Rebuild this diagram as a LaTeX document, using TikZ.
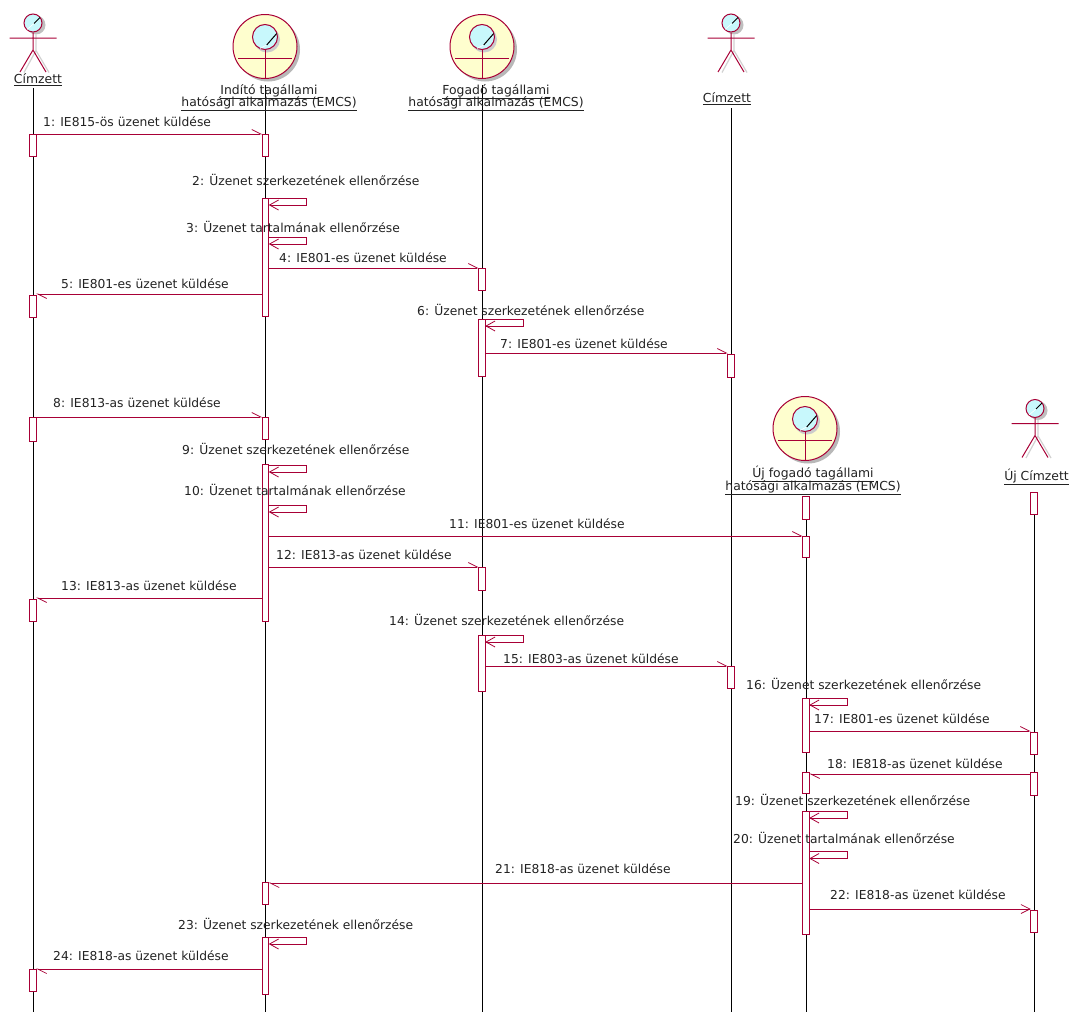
\documentclass[tikz,border=0pt]{standalone}
\usepackage{fontspec}
\setmainfont{DejaVu Sans}
\usetikzlibrary{arrows.meta}
\definecolor{umlred}{HTML}{A80036}
\definecolor{umlyellow}{HTML}{FEFECE}
\definecolor{umlcyan}{HTML}{C8F8FC}
\definecolor{umltext}{HTML}{222222}
\tikzset{
 x=1pt,y=-1pt,
 lifeline/.style={draw=black,line width=0.8pt},
 act/.style={draw=umlred,fill=white,line width=0.9pt,minimum width=6.5pt,inner sep=0pt,outer sep=0pt,rectangle},
 msg/.style={draw=umlred,line width=0.8pt,-{Straight Barb[harpoon,length=9pt,width=9pt,line width=0.7pt]}},
 msgfull/.style={draw=umlred,line width=0.8pt,-{Straight Barb[length=9pt,width=9pt,line width=0.7pt]}},
 selfmsg/.style={draw=umlred,line width=0.8pt,-{Straight Barb[length=9pt,width=10pt,line width=0.8pt]}},
 lbl/.style={font=\fontsize{12.3}{14}\selectfont,text=umltext,anchor=west,inner sep=0pt,text height=10pt,text depth=2pt},
 captxt/.style={font=\fontsize{12.4}{14.5}\selectfont,text=umltext,align=center,inner sep=0pt},
 figline/.style={draw=umlred,line width=1pt},
 actorfig/.pic={
  \draw[black!18,line width=1.2pt] (3,2) -- (3,18) -- (-9,40) (3,18) -- (16,40);
  \fill[black!25] (3,-7.5) circle[radius=9.5];
  \draw[figline,fill=umlcyan] (0,-9.5) circle[radius=9];
  \draw[black,line width=0.8pt] (1,-9) -- (7,-15);
  \draw[white,line width=0.6pt] (-6,-3) -- (1,-9);
  \draw[figline] (0,0) -- (0,17.5) (-23.5,5.5) -- (23.5,5.5) (-13,39.5) -- (0,17.5) -- (13,39.5);
 },
 agentfig/.pic={
  \fill[black!28] (3,3) circle[radius=32];
  \draw[figline,fill=umlyellow] (0,0) circle[radius=32];
  \fill[black!20] (2,-7) circle[radius=13];
  \draw[figline,fill=umlcyan] (0,-9.5) circle[radius=12.5];
  \draw[black,line width=1pt] (1.7,-1.5) -- (11.7,-13);
  \draw[white,line width=0.6pt] (-5,2) -- (1.7,-1.5);
  \draw[figline] (0,3) -- (0,32) (-27,11.5) -- (27,11.5);
 },
}
\begin{document}
\begin{tikzpicture}
\useasboundingbox (0,0) rectangle (1069,1012);
% lifeline ends
\coordinate (At) at (33,88); \coordinate (Ab) at (33,1012);
\coordinate (Bt) at (265.5,85); \coordinate (Bb) at (265.5,1012);
\coordinate (Ct) at (482,85); \coordinate (Cb) at (482,1012);
\coordinate (Dt) at (731,108); \coordinate (Db) at (731,1012);
\coordinate (Et) at (806,497); \coordinate (Eb) at (806,1012);
\coordinate (Ft) at (1034,493); \coordinate (Fb) at (1034,1012);
\foreach \l in {A,B,C,D,E,F} \draw[lifeline] (\l t) -- (\l b);
% figures
\pic at (33,32.5) {actorfig};
\pic at (265,46.5) {agentfig};
\pic at (482,46.5) {agentfig};
\pic at (731,32.5) {actorfig};
\pic at (805,428.5) {agentfig};
\pic at (1035,418) {actorfig};
% captions
\node[captxt] (capA) at (38,79.5) {\underline{Címzett}};
\node[captxt] (capB) at (269,97.5) {\underline{Indító tagállami}\\[-2.5pt]\underline{hatósági alkalmazás (EMCS)}};
\node[captxt] (capC) at (496,98) {\underline{Fogadó tagállami}\\[-2.5pt]\underline{hatósági alkalmazás (EMCS)}};
\node[captxt] (capD) at (727,99) {\underline{Címzett}};
\node[captxt] (capE) at (813,480.5) {\underline{Új fogadó tagállami}\\[-2pt]\underline{hatósági alkalmazás (EMCS)}};
\node[captxt] (capF) at (1036.5,477) {\underline{Új Címzett}};
% activations
\newcommand{\actbox}[4]{\node[act,minimum height=#4pt-#3pt,anchor=north] (#1) at (#2,#3) {};}
\actbox{a1}{33}{134}{156}
\actbox{a5}{33}{295}{317}
\actbox{a8}{33}{417}{441}
\actbox{a13}{33}{599}{621}
\actbox{a24}{33}{969}{991}
\actbox{b1}{265.5}{134}{156}
\actbox{b2}{265.5}{198}{316}
\actbox{b8}{265.5}{417}{439}
\actbox{b9}{265.5}{464}{621}
\actbox{b21}{265.5}{882}{904}
\actbox{b23}{265.5}{937}{994}
\actbox{c4}{482}{268}{290}
\actbox{c6}{482}{319}{376}
\actbox{c12}{482}{567}{590}
\actbox{c14}{482}{635}{691}
\actbox{d7}{731}{354}{377}
\actbox{d15}{731}{666}{688}
\actbox{e0}{806}{496}{519}
\actbox{e11}{806}{536}{557}
\actbox{e16}{806}{698}{752}
\actbox{e18}{806}{772}{793}
\actbox{e19}{806}{811}{934}
\actbox{f0}{1034}{492}{514}
\actbox{f17}{1034}{732}{754}
\actbox{f18}{1034}{772}{795}
\actbox{f22}{1034}{910}{932}
% messages
\draw[msg] (a1.north east) -- (b1.north west);
\draw[msg] (b2.east |- c4.north) -- (c4.north west);
\draw[msg] ([yshift=1pt]b2.west |- a5.north) -- ([yshift=1pt]a5.north east);
\draw[msg] ([yshift=1pt]c6.east |- d7.north) -- ([yshift=1pt]d7.north west);
\draw[msg] (a8.north east) -- (b8.north west);
\draw[msg] (b9.east |- e11.north) -- (e11.north west);
\draw[msg] (b9.east |- c12.north) -- (c12.north west);
\draw[msg] ([yshift=1pt]b9.west |- a13.north) -- ([yshift=1pt]a13.north east);
\draw[msg] (c14.east |- d15.north) -- (d15.north west);
\draw[msg] ([yshift=1pt]e16.east |- f17.north) -- ([yshift=1pt]f17.north west);
\draw[msg] ([yshift=-2pt]f18.west |- e18.north) -- ([yshift=-2pt]e18.north east);
\draw[msg] ([yshift=-1pt]e19.west |- b21.north) -- ([yshift=-1pt]b21.north east);
\draw[msgfull] ([yshift=1pt]e19.east |- f22.north) -- ([yshift=1pt]f22.north west);
\draw[msg] (b23.west |- a24.north) -- (a24.north east);
% self messages
\newcommand{\selfm}[3]{\coordinate (s#1) at (#2.east |- 0,#3);\coordinate (t#1) at ([xshift=38pt]s#1);\draw[selfmsg] (s#1) -- (t#1) -- ++(0,7) -- ([yshift=-7pt]s#1);}
\selfm{2}{b2}{198}
\selfm{3}{b2}{237}
\selfm{6}{c6}{319}
\selfm{9}{b9}{465}
\selfm{10}{b9}{505}
\selfm{14}{c14}{635}
\selfm{16}{e16}{698}
\selfm{19}{e19}{811}
\selfm{20}{e19}{851.5}
\selfm{23}{b23}{937}
% labels
\newcommand{\ml}[4]{\node[lbl] (m#1) at (#2,#3) {#1: #4};}
\ml{1}{43}{122}{IE815-ös üzenet küldése}
\ml{2}{192}{181}{Üzenet szerkezetének ellenőrzése}
\ml{3}{186}{228}{Üzenet tartalmának ellenőrzése}
\ml{4}{279}{258}{IE801-es üzenet küldése}
\ml{5}{61}{284}{IE801-es üzenet küldése}
\ml{6}{417}{311}{Üzenet szerkezetének ellenőrzése}
\ml{7}{500}{344}{IE801-es üzenet küldése}
\ml{8}{53}{403}{IE813-as üzenet küldése}
\ml{9}{182}{450}{Üzenet szerkezetének ellenőrzése}
\ml{10}{184}{491}{Üzenet tartalmának ellenőrzése}
\ml{11}{449}{524}{IE801-es üzenet küldése}
\ml{12}{276}{555}{IE813-as üzenet küldése}
\ml{13}{61}{586}{IE813-as üzenet küldése}
\ml{14}{389}{621}{Üzenet szerkezetének ellenőrzése}
\ml{15}{503}{659}{IE803-as üzenet küldése}
\ml{16}{746}{685}{Üzenet szerkezetének ellenőrzése}
\ml{17}{814}{719}{IE801-es üzenet küldése}
\ml{18}{827}{764}{IE818-as üzenet küldése}
\ml{19}{735}{801}{Üzenet szerkezetének ellenőrzése}
\ml{20}{733}{839}{Üzenet tartalmának ellenőrzése}
\ml{21}{495}{869}{IE818-as üzenet küldése}
\ml{22}{830}{895}{IE818-as üzenet küldése}
\ml{23}{178}{925}{Üzenet szerkezetének ellenőrzése}
\ml{24}{53}{956}{IE818-as üzenet küldése}
\end{tikzpicture}
\end{document}
